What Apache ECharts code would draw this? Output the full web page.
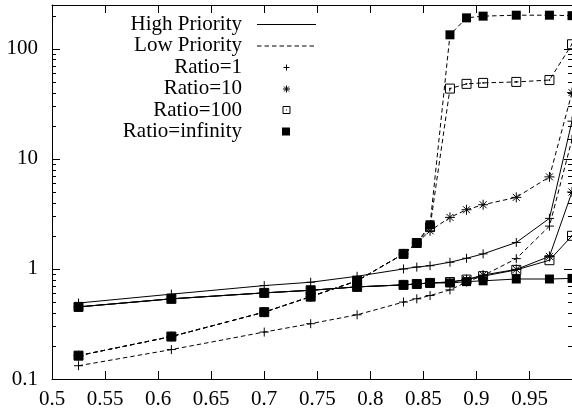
<!DOCTYPE html>
<html>
<head>
<meta charset="utf-8">
<script src="https://cdn.jsdelivr.net/npm/echarts@6/dist/echarts.min.js"></script>
<style>
  html, body { margin: 0; padding: 0; background: #fff; }
  #chart { width: 572px; height: 415px; }
</style>
</head>
<body>
<div id="chart"></div>
<script>
// load points (x axis)
var xs = [0.525, 0.6125, 0.7, 0.74375, 0.7875, 0.83125, 0.84375, 0.85625, 0.875, 0.890625, 0.90625, 0.9375, 0.96875, 0.99];

// high priority (solid) / low priority (dashed), one array per ratio
var highR1 = [0.49, 0.59, 0.706, 0.757, 0.858, 1.0, 1.04, 1.07, 1.15, 1.25, 1.37, 1.74, 2.88, 22];
var lowR1 = [0.132, 0.185, 0.267, 0.318, 0.383, 0.50, 0.535, 0.573, 0.645, 0.76, 0.87, 1.24, 2.45, 15];
var highR10 = [0.452, 0.535, 0.606, 0.64, 0.687, 0.716, 0.73, 0.746, 0.76, 0.80, 0.88, 0.99, 1.30, 5];
var lowR10 = [0.163, 0.243, 0.405, 0.56, 0.78, 1.37, 1.72, 2.22, 2.94, 3.45, 3.83, 4.47, 6.86, 40];
var highR100 = [0.452, 0.535, 0.606, 0.64, 0.687, 0.716, 0.73, 0.746, 0.76, 0.80, 0.86, 0.98, 1.2, 2];
var lowR100 = [0.163, 0.243, 0.405, 0.56, 0.78, 1.37, 1.72, 2.4, 43.5, 48, 49, 50, 52, 110];
var highInf = [0.452, 0.535, 0.606, 0.64, 0.687, 0.716, 0.73, 0.746, 0.746, 0.767, 0.78, 0.81, 0.81, 0.82];
var lowInf = [0.163, 0.243, 0.405, 0.56, 0.78, 1.37, 1.72, 2.52, 134, 191, 198, 202, 202, 200];

// tick labels
var yTicks = [0.1, 1, 10, 100];
var yMinorTicks = [0.2, 0.3, 0.4, 0.5, 0.6, 0.7, 0.8, 0.9, 2, 3, 4, 5, 6, 7, 8, 9, 20, 30, 40, 50, 60, 70, 80, 90, 200];
var legendLabels = ['High Priority', 'Low Priority', 'Ratio=1', 'Ratio=10', 'Ratio=100', 'Ratio=infinity'];

var X_MIN = 0.5, X_MAX = 0.99;
var FONT = '"Liberation Serif", "Times New Roman", serif';

// gnuplot-like point types
var PLUS = 'path://M0,5L10,5M5,0L5,10';
var STAR = 'path://M5,0L5,10M0,5L10,5M1.5,1.5L8.5,8.5M1.5,8.5L8.5,1.5';
var BOX = 'path://M0,0L10,0L10,10L0,10ZM4.5,4.5L5.5,4.5L5.5,5.5L4.5,5.5Z';

function pairs(ys) {
  return xs.map(function (x, i) { return [x, ys[i]]; });
}

function mkSeries(ys, dashed, symbol, size, filled) {
  return {
    type: 'line',
    data: pairs(ys),
    symbol: symbol,
    symbolSize: size,
    showAllSymbol: true,
    clip: true,
    lineStyle: { color: '#000', width: 1, type: dashed ? [4.5, 3] : 'solid' },
    itemStyle: filled
      ? { color: '#000', borderWidth: 0 }
      : { color: 'rgba(0,0,0,0)', borderColor: '#000', borderWidth: 1 },
    emphasis: { disabled: true },
    z: 3
  };
}

var chart = echarts.init(document.getElementById('chart'), null, { renderer: 'canvas' });

var axisCommon = {
  axisLine: { onZero: false, lineStyle: { color: '#000', width: 1 } },
  axisTick: { inside: true, length: 8, lineStyle: { color: '#000', width: 1 } },
  splitLine: { show: false }
};

// legend, drawn like the gnuplot key
var legendX = 242, sampleX1 = 257, sampleX2 = 316, symX = 286.5;
var rowY = [24, 45.5, 67, 88.5, 110, 131.5];
var ink = { stroke: '#000', lineWidth: 1 };
function seg(x1, y1, x2, y2) {
  return { type: 'line', shape: { x1: x1, y1: y1, x2: x2, y2: y2 }, style: ink };
}
var graphics = [];
legendLabels.forEach(function (t, i) {
  graphics.push({
    type: 'text', x: legendX, y: rowY[i],
    style: { text: t, font: '21px ' + FONT, fill: '#000', align: 'right', verticalAlign: 'middle' }
  });
});
graphics.push(seg(sampleX1, rowY[0] + 0.5, sampleX2, rowY[0] + 0.5));
graphics.push({ type: 'line', shape: { x1: sampleX1, y1: rowY[1] + 0.5, x2: sampleX2, y2: rowY[1] + 0.5 }, style: { stroke: '#000', lineWidth: 1, lineDash: [4.5, 3] } });
// plus
var py = rowY[2] + 0.5;
graphics.push(seg(symX - 3, py, symX + 3, py), seg(symX, py - 3, symX, py + 3));
// star
var sy = rowY[3] + 0.5;
graphics.push(seg(symX - 3.5, sy, symX + 3.5, sy), seg(symX, sy - 3.5, symX, sy + 3.5),
  seg(symX - 2.5, sy - 2.5, symX + 2.5, sy + 2.5), seg(symX - 2.5, sy + 2.5, symX + 2.5, sy - 2.5));
// box with dot
var by = rowY[4];
graphics.push({ type: 'rect', shape: { x: symX - 3.5, y: by - 3.5, width: 7, height: 7 }, style: { fill: 'none', stroke: '#000', lineWidth: 1 } });
graphics.push({ type: 'rect', shape: { x: symX - 0.5, y: by - 0.5, width: 1, height: 1 }, style: { fill: '#000' } });
// filled square
graphics.push({ type: 'rect', shape: { x: symX - 4.5, y: rowY[5] - 4, width: 8, height: 8 }, style: { fill: '#000' } });

var option = {
  animation: false,
  backgroundColor: '#fff',
  // plot frame runs a couple of pixels past the right edge of the picture
  grid: { left: 52, top: 5, width: 522, bottom: 36, containLabel: false },
  xAxis: [
    Object.assign({}, axisCommon, {
      type: 'value', min: X_MIN, max: X_MAX, interval: 0.05, position: 'bottom',
      axisLabel: { color: '#000', fontFamily: FONT, fontSize: 21, margin: 10, showMaxLabel: false }
    }),
    Object.assign({}, axisCommon, {
      type: 'value', min: X_MIN, max: X_MAX, interval: 0.05, position: 'top',
      axisLabel: { show: false }
    })
  ],
  yAxis: [
    Object.assign({}, axisCommon, {
      type: 'log', logBase: 10, min: 0.1, max: 250, position: 'left',
      axisLabel: {
        color: '#000', fontFamily: FONT, fontSize: 21, margin: 14, showMaxLabel: false,
        formatter: function (v) {
          var s = +(+v).toPrecision(3);
          return yTicks.indexOf(s) >= 0 ? String(s) : '';
        }
      }
    }),
    Object.assign({}, axisCommon, {
      type: 'log', logBase: 10, min: 0.1, max: 250, position: 'right',
      axisLabel: { show: false }
    })
  ],
  graphic: graphics,
  series: [
    // minor ticks of the log axis, left and right border
    {
      type: 'custom',
      data: yMinorTicks.map(function (v) { return [X_MIN, v]; }),
      encode: { x: 0, y: 1 },
      clip: false,
      silent: true,
      z: 1,
      renderItem: function (params, api) {
        var v = api.value(1);
        var pl = api.coord([X_MIN, v]);
        var pr = api.coord([X_MAX, v]);
        var y = Math.round(pl[1]) + 0.5;
        return {
          type: 'group',
          children: [
            { type: 'line', shape: { x1: pl[0], y1: y, x2: pl[0] + 4, y2: y }, style: { stroke: '#000', lineWidth: 1 } },
            { type: 'line', shape: { x1: pr[0] - 4, y1: y, x2: pr[0], y2: y }, style: { stroke: '#000', lineWidth: 1 } }
          ]
        };
      }
    },
    mkSeries(highR1, false, PLUS, 9, false),
    mkSeries(lowR1, true, PLUS, 9, false),
    mkSeries(highR10, false, STAR, 10, false),
    mkSeries(lowR10, true, STAR, 10, false),
    mkSeries(highR100, false, BOX, 9, false),
    mkSeries(lowR100, true, BOX, 9, false),
    mkSeries(highInf, false, 'rect', 9, true),
    mkSeries(lowInf, true, 'rect', 9, true)
  ]
};

chart.setOption(option);
</script>
</body>
</html>
